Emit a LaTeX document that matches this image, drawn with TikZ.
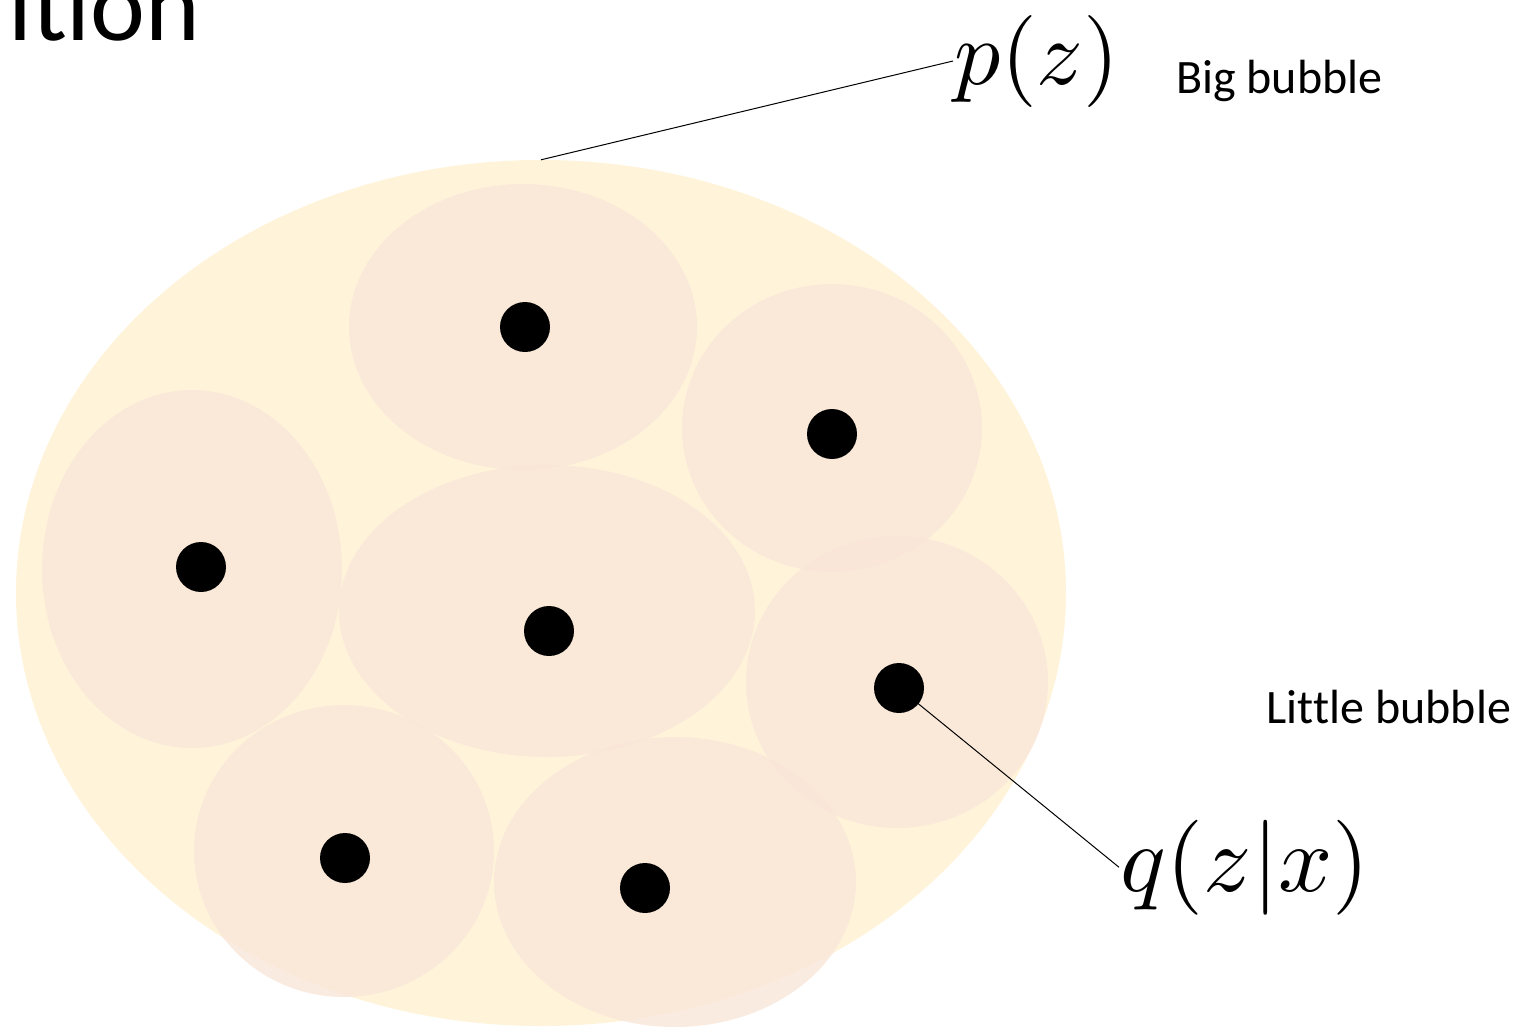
\documentclass[tikz,border=0pt]{standalone}
\usepackage{fontspec}
\newfontfamily\calib[Ligatures={NoCommon,NoContextual}]{Carlito}
\usetikzlibrary{shapes.geometric}
\definecolor{bigfill}{HTML}{FFF4DA}
\definecolor{smallfill}{HTML}{F9E6D9}
\tikzset{
  bigbubble/.style={ellipse, fill=bigfill, inner sep=0pt},
  littlebubble/.style={ellipse, fill=smallfill, fill opacity=0.78, inner sep=0pt},
  dotnode/.style={circle, fill=black, inner sep=0pt, minimum size=50pt},
  leader/.style={draw=black, line width=1pt},
  sanslabel/.style={font=\calib\fontsize{48}{52}\selectfont, inner sep=0pt, anchor=base west},
  mathlabel/.style={inner sep=0pt, anchor=base west}
}
\begin{document}
\begin{tikzpicture}[x=1pt,y=-1pt]
\useasboundingbox (0,0) rectangle (1532,1029);
\fill[white] (0,0) rectangle (1532,1029);
% title fragment
\node[font=\calib\fontsize{104}{114}\selectfont, inner sep=0pt, anchor=base west] (title) at (8,40) {i\kern0pt t\kern0pt ion};
% big bubble
\node[bigbubble, minimum width=1050pt, minimum height=866pt] (big) at (541,593) {};
% little bubbles
\node[littlebubble, minimum width=348pt, minimum height=286pt] (b1) at (523,327) {};
\node[littlebubble, minimum width=300pt, minimum height=288pt] (b2) at (832,428) {};
\node[littlebubble, minimum width=300pt, minimum height=358pt] (b3) at (192,569) {};
\node[littlebubble, minimum width=416pt, minimum height=292pt] (b4) at (547,611) {};
\node[littlebubble, minimum width=302pt, minimum height=292pt] (b5) at (897,682) {};
\node[littlebubble, minimum width=300pt, minimum height=292pt] (b6) at (344,851) {};
\node[littlebubble, minimum width=362pt, minimum height=290pt] (b7) at (675,882) {};
% dots
\node[dotnode] (d1) at (525,327) {};
\node[dotnode] (d2) at (832,434) {};
\node[dotnode] (d3) at (201,567) {};
\node[dotnode] (d4) at (549,631) {};
\node[dotnode] (d5) at (899,688) {};
\node[dotnode] (d6) at (345,858) {};
\node[dotnode] (d7) at (645,888) {};
% labels
\node[mathlabel, scale=9.2] (pz) at (953,84) {$p(z)$};
\node[mathlabel, scale=9.5] (qzx) at (1119,891) {$q(z|x)$};
\node[sanslabel] (bigl) at (1176,93) {Big bubble};
\node[sanslabel] (littlel) at (1266,723) {Lit\kern0pt t\kern0pt le bubble};
% leader lines
\draw[leader] (big.north) -- (pz.west);
\draw[leader] (d5.center) -- (qzx.west);
\end{tikzpicture}
\end{document}
